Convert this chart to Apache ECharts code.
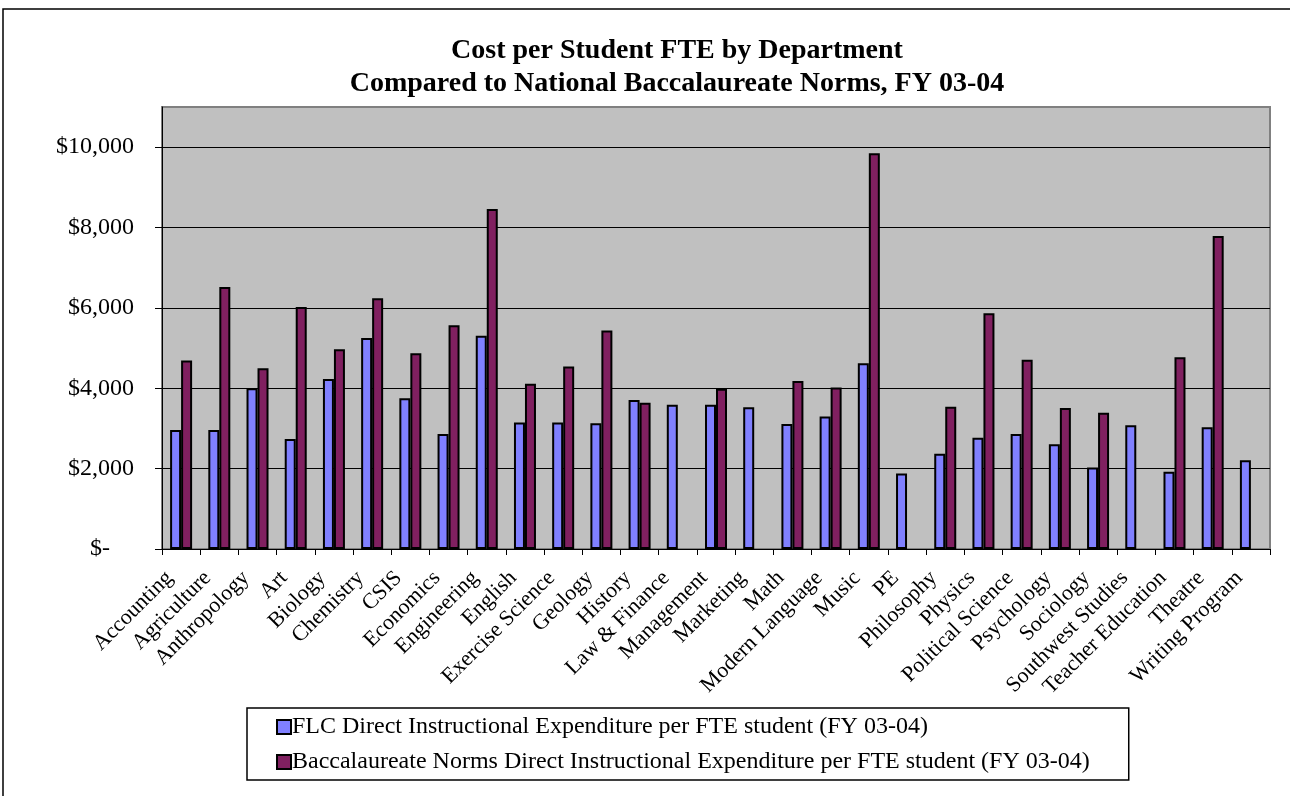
<!DOCTYPE html>
<html>
<head>
<meta charset="utf-8">
<script src="https://cdn.jsdelivr.net/npm/echarts@6/dist/echarts.min.js"></script>
<style>
    html, body { margin: 0; padding: 0; background: #fff; }
    #chart { width: 1290px; height: 796px; }
</style>
</head>
<body>
<div id="chart"></div>
<script>
// departments along the x axis
const categories = ['Accounting', 'Agriculture', 'Anthropology', 'Art', 'Biology', 'Chemistry', 'CSIS',
    'Economics', 'Engineering', 'English', 'Exercise Science', 'Geology', 'History', 'Law & Finance',
    'Management', 'Marketing', 'Math', 'Modern Language', 'Music', 'PE', 'Philosophy', 'Physics',
    'Political Science', 'Psychology', 'Sociology', 'Southwest Studies', 'Teacher Education', 'Theatre',
    'Writing Program']

const flcValues = [2960, 2960, 4000, 2740, 4230, 5250, 3750, 2860, 5310, 3150, 3150, 3130, 3710, 3590,
    3590, 3530, 3110, 3300, 4620, 1880, 2370, 2770, 2860, 2610, 2030, 3080, 1920, 3030, 2210]

const normValues = [4690, 6520, 4500, 6020, 4970, 6240, 4870, 5570, 8460, 4110, 4540, 5440, 3640, null,
    3990, null, 4180, 4020, 9850, null, 3540, 5870, 4710, 3510, 3390, null, 4770, 7790, null]

const yTicks = [0, 2000, 4000, 6000, 8000, 10000]

const seriesNames = ['FLC Direct Instructional Expenditure per FTE student (FY 03-04)',
    'Baccalaureate Norms Direct Instructional Expenditure per FTE student (FY 03-04)']

const serif = '"Liberation Serif", "DejaVu Serif", serif'

let chart = echarts.init(document.getElementById('chart'))

function money(v){
    if (v === 0) return '$-    '
    return '$' + v.toLocaleString('en-US')
}

chart.setOption({
    animation: false,
    title: {
        text: 'Cost per Student FTE by Department\nCompared to National Baccalaureate Norms, FY 03-04',
        left: 672,
        top: 29,
        textAlign: 'center',
        textStyle: {
            fontFamily: serif,
            fontSize: 28,
            fontWeight: 'bold',
            color: '#000',
            lineHeight: 33
        }
    },
    legend: {
        orient: 'vertical',
        left: 247,
        top: 708,
        padding: [7, 39, 6, 29],
        borderColor: '#000',
        borderWidth: 1.5,
        itemWidth: 14,
        itemHeight: 14,
        itemGap: 11,
        icon: 'rect',
        itemStyle: { borderColor: '#000', borderWidth: 2 },
        textStyle: { fontFamily: serif, fontSize: 24, color: '#000', padding: [0, 0, 0, -4] },
        data: seriesNames
    },
    grid: {
        left: 162,
        right: 20,
        top: 107,
        bottom: 247,
        show: true,
        backgroundColor: '#c0c0c0',
        borderColor: '#808080',
        borderWidth: 2
    },
    xAxis: {
        type: 'category',
        data: categories,
        axisLine: { lineStyle: { color: '#000', width: 1 } },
        axisTick: { show: true, length: 6, lineStyle: { color: '#000' } },
        axisLabel: {
            interval: 0,
            rotate: 45,
            margin: 14,
            fontFamily: serif,
            fontSize: 22,
            color: '#000',
            formatter: name => name + '   '   // label ends a little short of the tick, like Excel
        }
    },
    yAxis: {
        type: 'value',
        min: 0,
        max: 11000,
        interval: 1000,
        axisLine: { show: true, lineStyle: { color: '#000', width: 1 } },
        axisTick: { show: true, length: 7, customValues: yTicks, lineStyle: { color: '#000' } },
        axisLabel: {
            customValues: yTicks,
            margin: 28,
            fontFamily: serif,
            fontSize: 24,
            color: '#000',
            formatter: money
        },
        splitLine: { show: true, lineStyle: { color: '#000', width: 1 } }
    },
    series: [{
        name: seriesNames[0],
        type: 'bar',
        barWidth: 11,
        barGap: '0%',
        itemStyle: { color: '#8080ff', borderColor: '#000', borderWidth: 2 },
        data: flcValues
    }, {
        name: seriesNames[1],
        type: 'bar',
        barWidth: 11,
        itemStyle: { color: '#802060', borderColor: '#000', borderWidth: 2 },
        data: normValues
    }],
    graphic: [{
        type: 'rect',
        shape: { x: 3, y: 9, width: 1300, height: 800 },
        style: { fill: 'none', stroke: '#000', lineWidth: 1.5 },
        silent: true
    }]
})
</script>
</body>
</html>
